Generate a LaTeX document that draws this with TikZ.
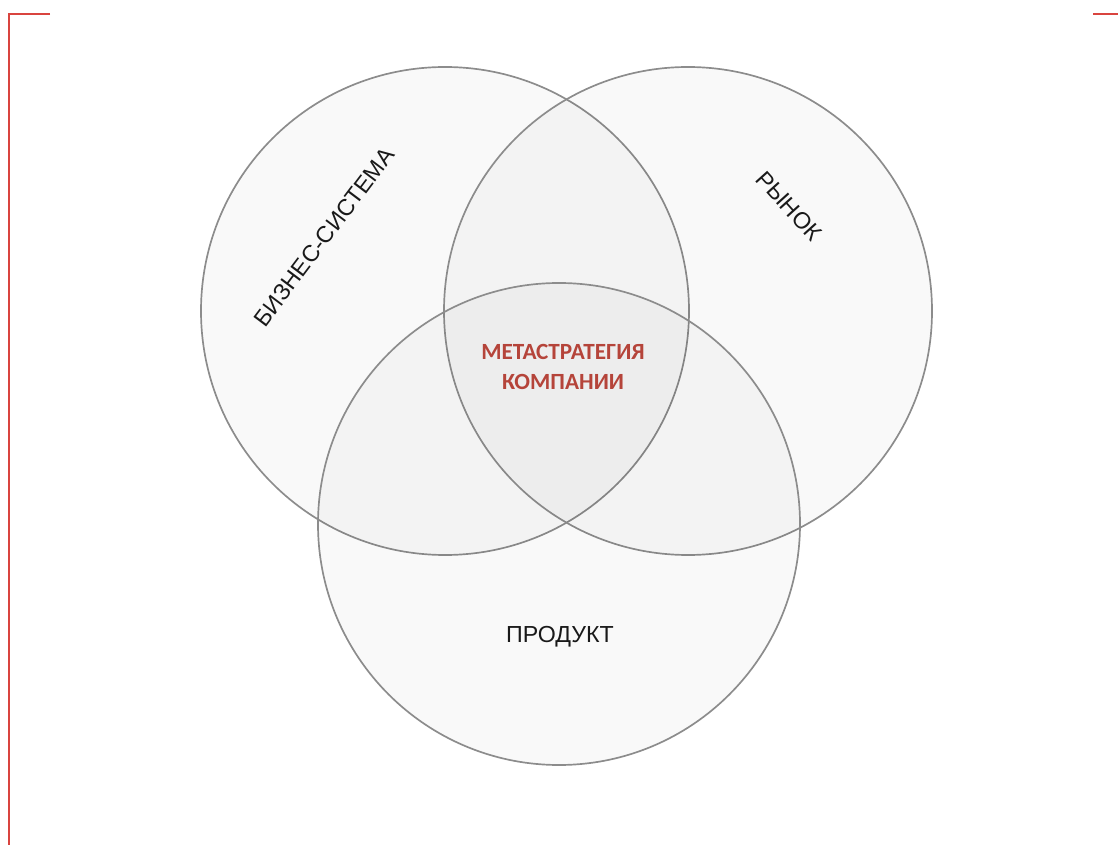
\documentclass[tikz,border=0pt]{standalone}
\usepackage{fontspec}
\setmainfont{Liberation Sans}
\newfontfamily\centerfont{Carlito}
\usepackage{tikz}

\definecolor{framered}{HTML}{D9443F}
\definecolor{ringgray}{HTML}{8C8C8C}
\definecolor{metared}{HTML}{B5443A}
\tikzset{
  ring/.style={draw=ringgray, line width=1.2pt, fill=black, fill opacity=0.022},
  setlabel/.style={text=black!90, font=\fontsize{16.5}{20}\selectfont},
  metalabel/.style={text=metared, font=\centerfont\bfseries\fontsize{16.5}{21.5}\selectfont, align=center}
}

\begin{document}
\begin{tikzpicture}[x=0.025cm, y=-0.025cm]
\useasboundingbox (0,0) rectangle (1118,845);
% corner marks
\draw [draw=framered, line width=2pt] (50,14)--(9,14)--(9,845);
\draw [draw=framered, line width=2pt] (1093,14)--(1118,14);

% three sets
\coordinate (biz) at (445,311);
\coordinate (mkt) at (688,311);
\coordinate (prod) at (559,524);
\draw [ring] (biz) circle[radius=244];
\draw [ring] (mkt) circle[radius=244];
\draw [ring] (prod) circle[radius=241];

\node [setlabel, rotate=53] (bizlabel) at (324,237) {БИЗНЕС-СИСТЕМА};
\node [setlabel, rotate=-48] (mktlabel) at (789,206) {РЫНОК};
\node [setlabel] (prodlabel) at (560,637) {ПРОДУКТ};
\node [metalabel] (meta) at (563,367) {МЕТАСТРАТЕГИЯ\\КОМПАНИИ};
\end{tikzpicture}
\end{document}
